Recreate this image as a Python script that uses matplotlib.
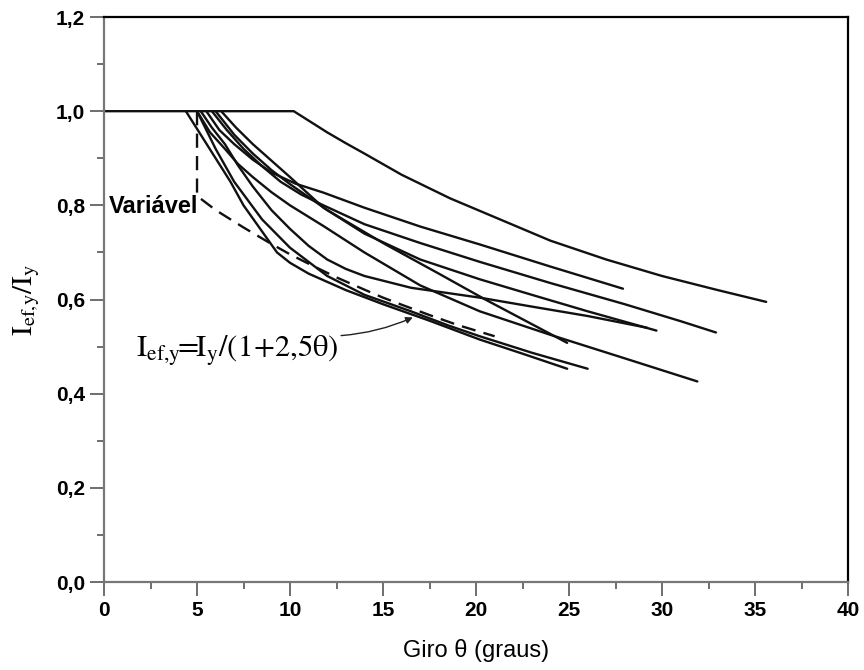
import numpy as np
import matplotlib
matplotlib.use('Agg')
import matplotlib.pyplot as plt
from matplotlib.ticker import MultipleLocator, FuncFormatter

cA_x = [0, 10.2, 11, 12, 13, 14, 16, 18.6, 21, 24, 27, 30, 33, 35.6]
cA_y = [1.0, 1.0, 0.98, 0.955, 0.932, 0.91, 0.865, 0.815, 0.775, 0.725, 0.685, 0.65, 0.62, 0.595]
cB_x = [5.5, 6.2, 7, 8, 9, 10.3, 11.8, 14, 17, 20.2, 24, 27.9]
cB_y = [1.0, 0.96, 0.93, 0.897, 0.87, 0.846, 0.827, 0.795, 0.755, 0.717, 0.67, 0.623]
cC_x = [5.8, 6.6, 7.5, 8.5, 9.5, 10.6, 11.8, 14, 17, 20.2, 24, 28, 31, 32.9]
cC_y = [1.0, 0.96, 0.92, 0.883, 0.85, 0.823, 0.80, 0.76, 0.72, 0.68, 0.635, 0.59, 0.554, 0.53]
cD_x = [6.3, 7.1, 8, 9, 10, 11.8, 13, 14, 17, 20.2, 23, 26, 29.7]
cD_y = [1.0, 0.965, 0.93, 0.895, 0.86, 0.795, 0.765, 0.74, 0.685, 0.643, 0.61, 0.575, 0.534]
cE_x = [5.2, 5.8, 6.5, 7.2, 8, 9, 10, 11, 12, 13, 14, 16.5, 20.2, 23, 26, 29.2]
cE_y = [1.0, 0.965, 0.93, 0.885, 0.84, 0.79, 0.75, 0.714, 0.685, 0.665, 0.65, 0.625, 0.604, 0.585, 0.565, 0.54]
cF_x = [5.0, 5.7, 6.5, 7.2, 8, 9, 10, 11.8, 14, 17, 20.2, 24, 28, 31.9]
cF_y = [1.0, 0.955, 0.92, 0.888, 0.86, 0.828, 0.80, 0.756, 0.70, 0.63, 0.575, 0.525, 0.475, 0.426]
cG_x = [6.0, 7, 8, 9, 10, 12, 15, 18, 20.5, 24.9]
cG_y = [1.0, 0.95, 0.91, 0.875, 0.845, 0.79, 0.72, 0.655, 0.60, 0.508]
cH_x = [5.0, 5.5, 6, 7, 8.5, 10, 12, 14, 16.5, 18.5, 20.2, 23, 26]
cH_y = [1.0, 0.96, 0.92, 0.85, 0.77, 0.71, 0.65, 0.61, 0.575, 0.545, 0.522, 0.487, 0.453]
cI_x = [4.4, 5.2, 6, 6.8, 7.5, 8.4, 9.3, 10, 11, 13, 15, 17.5, 20.2, 22.5, 24.9]
cI_y = [1.0, 0.95, 0.90, 0.85, 0.80, 0.75, 0.70, 0.678, 0.655, 0.62, 0.59, 0.555, 0.515, 0.485, 0.453]

# curva "Variavel" tracejada
var_x = [5, 5, 6, 7.5, 9, 10, 11, 12.5, 14, 15, 16, 17.5, 19, 20, 21]
var_y = [1.0, 0.82, 0.79, 0.753, 0.718, 0.696, 0.676, 0.647, 0.621, 0.604, 0.589, 0.567, 0.546, 0.534, 0.522]

curvas = [(cA_x, cA_y), (cB_x, cB_y), (cC_x, cC_y), (cD_x, cD_y), (cE_x, cE_y),
          (cF_x, cF_y), (cG_x, cG_y), (cH_x, cH_y), (cI_x, cI_y)]

plt.rcParams['mathtext.fontset'] = 'stix'
narrow = ['Liberation Sans Narrow', 'Liberation Sans', 'DejaVu Sans']

fig = plt.figure(figsize=(8.64, 6.70), dpi=100)
ax = fig.add_axes([0.1204, 0.1313, 0.8611, 0.8433])

for cx, cy in curvas:
    ax.plot(cx, cy, color='#111111', lw=1.7, solid_joinstyle='round', solid_capstyle='round')
ax.plot(var_x, var_y, color='#111111', lw=1.7, ls=(0, (6, 3.5)))

ax.set_xlim(0, 40)
ax.set_ylim(0, 1.2)
ax.xaxis.set_major_locator(MultipleLocator(5))
ax.xaxis.set_minor_locator(MultipleLocator(2.5))
ax.yaxis.set_major_locator(MultipleLocator(0.2))
ax.yaxis.set_minor_locator(MultipleLocator(0.1))
ax.yaxis.set_major_formatter(FuncFormatter(lambda v, p: ('%.1f' % v).replace('.', ',')))
ax.xaxis.set_major_formatter(FuncFormatter(lambda v, p: '%d' % v))

ax.tick_params(which='major', direction='out', length=10, width=1.2, color='#555555')
ax.tick_params(which='minor', direction='out', length=5, width=1.2, color='#555555')
for lab in ax.get_xticklabels() + ax.get_yticklabels():
    lab.set_family(narrow)
    lab.set_fontweight('bold')
    lab.set_fontsize(15)

for s in ['left', 'bottom']:
    ax.spines[s].set_color('#777777')
    ax.spines[s].set_linewidth(1.6)
for s in ['top', 'right']:
    ax.spines[s].set_color('black')
    ax.spines[s].set_linewidth(1.6)

ax.set_xlabel('Giro θ (graus)', family=narrow, fontsize=17, labelpad=14)
ax.set_ylabel(r'$\mathrm{I}_{\mathrm{ef{,}y}}\mathrm{/I}_{\mathrm{y}}$', fontsize=21, labelpad=10)

ax.text(0.25, 0.797, 'Variável', family=narrow, fontweight='bold', fontsize=17,
        ha='left', va='center')
ax.annotate(r'$\mathrm{I}_{\mathrm{ef{,}y}}\!\!=\!\!\mathrm{I}_{\mathrm{y}}\mathrm{/(1}\!+\!\mathrm{2{,}5\theta)}$',
            xy=(16.6, 0.562), xytext=(1.7, 0.49), fontsize=22,
            ha='left', va='center',
            arrowprops=dict(arrowstyle='-|>', color='#222222', lw=1.0,
                            mutation_scale=10, shrinkA=0, shrinkB=0,
                            relpos=(0.87, 0.95),
                            connectionstyle='arc3,rad=0.12'))

fig.savefig('out.png', dpi=100)
